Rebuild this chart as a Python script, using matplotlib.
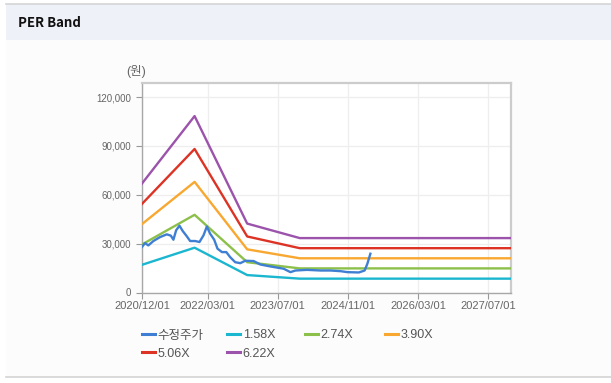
import matplotlib
matplotlib.use("Agg")
import matplotlib.pyplot as plt
import matplotlib.dates as mdates
from matplotlib.patches import Rectangle
from matplotlib.lines import Line2D
import pandas as pd

# ---------------- data ----------------
band_dates = ["2020-12-01", "2021-12-01", "2022-12-01", "2023-12-01", "2027-12-01"]
band_labels = ["1.58X", "2.74X", "3.90X", "5.06X", "6.22X"]
band_158 = [17000, 27500, 10700, 8500, 8500]
band_274 = [29500, 47700, 18600, 14800, 14800]
band_390 = [42000, 67900, 26500, 21000, 21000]
band_506 = [54400, 88100, 34400, 27200, 27200]
band_622 = [66900, 108300, 42300, 33400, 33400]

price_label = "수정주가"
price_dates = ["2020-12-01", "2020-12-22", "2021-01-14", "2021-02-18", "2021-04-05",
               "2021-05-22", "2021-06-19", "2021-07-07", "2021-07-26", "2021-08-18",
               "2021-09-10", "2021-10-08", "2021-10-31", "2021-12-05", "2022-01-04",
               "2022-02-01", "2022-02-24", "2022-03-19", "2022-04-16", "2022-05-09",
               "2022-06-09", "2022-07-09", "2022-08-05", "2022-09-09", "2022-10-14",
               "2022-11-18", "2023-01-15", "2023-03-02", "2023-05-11", "2023-08-11",
               "2023-09-27", "2023-11-01", "2024-01-21", "2024-04-23", "2024-07-01",
               "2024-09-09", "2024-10-26", "2025-01-14", "2025-02-23", "2025-03-14",
               "2025-04-04"]
price_values = [28000, 30300, 28900, 31600, 34000,
                35700, 34900, 32400, 38200, 41000,
                37700, 34500, 31600, 31600, 31000,
                35100, 40500, 36100, 32400, 26900,
                24800, 24800, 21700, 18600, 18000,
                19500, 19300, 17200, 16000, 14600,
                12500, 13500, 13900, 13500, 13500,
                13100, 12500, 12300, 13500, 17600,
                23800]

x_ticks = ["2020-12-01", "2022-03-01", "2023-07-01", "2024-11-01", "2026-03-01", "2027-07-01"]
y_ticks = [0, 30000, 60000, 90000, 120000]

# ---------------- styles ----------------
FONT = ["Liberation Sans", "Noto Sans CJK KR"]
plt.rcParams["font.family"] = FONT
colors = {"price": "#3f7fd3", "1.58X": "#1bb6cf", "2.74X": "#8cc04b",
          "3.90X": "#f8a830", "5.06X": "#dc3325", "6.22X": "#9b53ab"}

W, H = 611, 383
fig = plt.figure(figsize=(W / 100, H / 100), dpi=100)
fig.patch.set_facecolor("white")

# page decorations
fig.patches.append(Rectangle((6 / W, 1 - 376.5 / H), 1, (376.5 - 39.5) / H,
                             transform=fig.transFigure, facecolor="#fcfcfc",
                             edgecolor="none", zorder=-2))
fig.patches.append(Rectangle((6 / W, 1 - 39.5 / H), 1, 35.5 / H,
                             transform=fig.transFigure, facecolor="#eef2f8",
                             edgecolor="none", zorder=-2))
fig.lines.append(Line2D([6 / W, 1], [1 - 4 / H, 1 - 4 / H], transform=fig.transFigure,
                        color="#d4d4d4", lw=1.2, zorder=-1))
fig.lines.append(Line2D([6 / W, 1], [1 - 376.5 / H, 1 - 376.5 / H], transform=fig.transFigure,
                        color="#d4d4d4", lw=1.2, zorder=-1))
fig.text(18 / W, 1 - 23 / H, "PER Band", fontsize=9.5, fontweight="bold",
         family=["Noto Sans CJK KR"], color="#111111", va="center", ha="left")

# axes
left, right, top, bottom = 142, 511, 83, 292.5
ax = fig.add_axes([left / W, 1 - bottom / H, (right - left) / W, (bottom - top) / H])
ax.set_facecolor("white")

bd = pd.to_datetime(band_dates)
pdts = pd.to_datetime(price_dates)

ax.plot(pdts, price_values, color=colors["price"], lw=1.7, label=price_label, zorder=6)
for lab, vals in zip(band_labels, [band_158, band_274, band_390, band_506, band_622]):
    ax.plot(bd, vals, color=colors[lab], lw=1.7, label=lab, zorder=5)

ax.set_xlim(pd.Timestamp("2020-12-01"), pd.Timestamp("2027-12-06"))
ax.set_ylim(0, 128600)
ax.set_xticks(pd.to_datetime(x_ticks))
ax.xaxis.set_major_formatter(mdates.DateFormatter("%Y/%m/%d"))
ax.set_yticks(y_ticks)
ax.set_yticklabels([f"{v:,}" for v in y_ticks])
ax.tick_params(axis="y", labelsize=7, colors="#999999", labelcolor="#666666",
               length=4, width=0.8, pad=4)
ax.tick_params(axis="x", labelsize=8, colors="#999999", labelcolor="#666666",
               length=4, width=0.8, pad=2)
ax.grid(True, color="#eeeeee", lw=0.9)
ax.set_axisbelow(True)
for s in ["left", "bottom"]:
    ax.spines[s].set_color("#a8a8a8")
    ax.spines[s].set_linewidth(1.0)
for s in ["top", "right"]:
    ax.spines[s].set_color("#cccccc")
    ax.spines[s].set_linewidth(1.6)

fig.text(136 / W, 1 - 72 / H, "(원)", fontsize=9, color="#666666",
         ha="center", va="center")

# legend in fixed-width slots
handles, labels = ax.get_legend_handles_labels()
hmap = dict(zip(labels, handles))
slots = [([price_label, "5.06X"], 139), (["1.58X", "6.22X"], 224),
         (["2.74X"], 302), (["3.90X"], 382)]
for labs, xpos in slots:
    leg = fig.legend([hmap[l] for l in labs], labs, loc="upper left",
                     bbox_to_anchor=(xpos / W, 1 - 327 / H), frameon=False,
                     fontsize=9, handlelength=1.05, handletextpad=0.25,
                     labelspacing=0.5, borderpad=0.2, borderaxespad=0)
    for t in leg.get_texts():
        t.set_color("#555555")
    for ln in leg.get_lines():
        ln.set_linewidth(2.2)

fig.savefig("out.png", dpi=100)
